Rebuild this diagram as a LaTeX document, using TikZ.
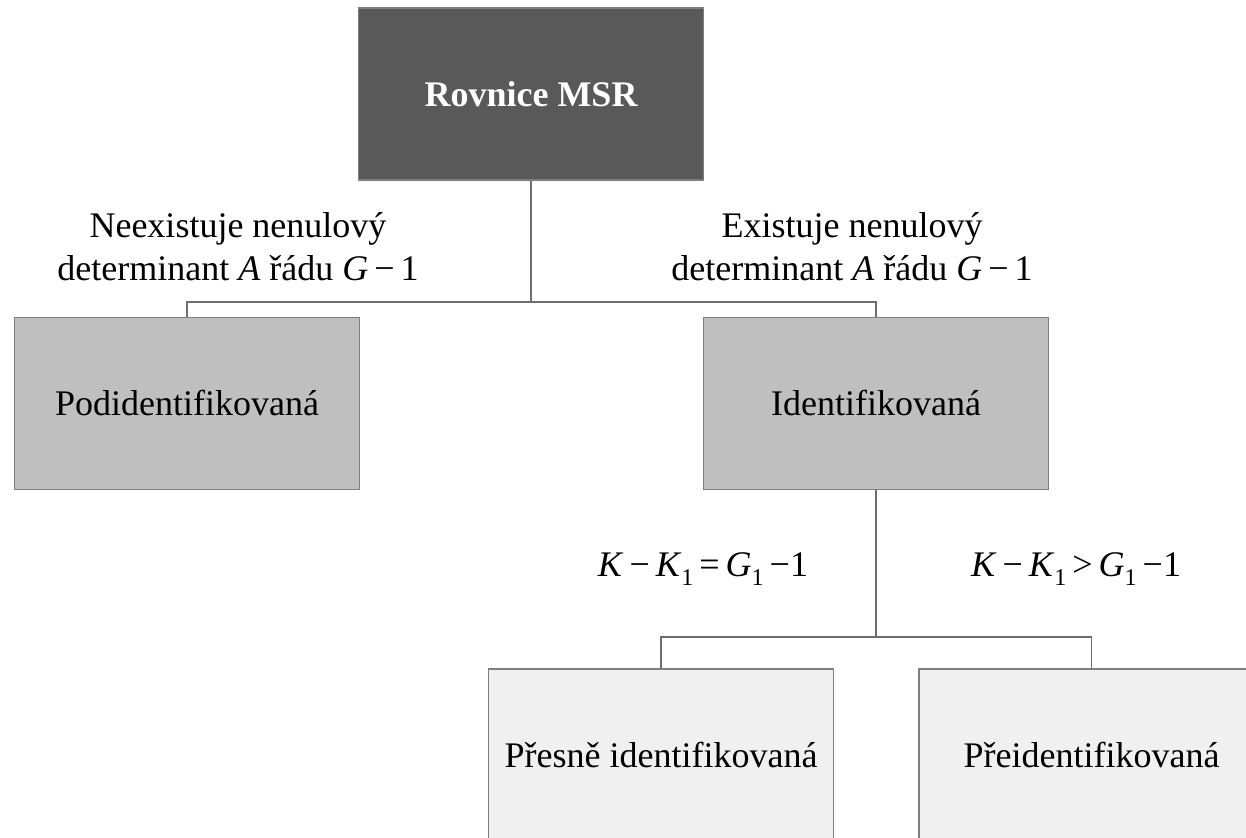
\documentclass[tikz,border=0pt]{standalone}
\usepackage{fontspec}
\setmainfont{Liberation Serif}
\definecolor{darkfill}{HTML}{595959}
\definecolor{midfill}{HTML}{BFBFBF}
\definecolor{lightfill}{HTML}{F0F0F0}
\definecolor{edge}{HTML}{7F7F7F}
\definecolor{conn}{HTML}{6E6E6E}
\newcommand{\lowsub}[1]{\raisebox{-0.55ex}{\fontsize{12}{12}\selectfont #1}}
\begin{document}
\begin{tikzpicture}[x=0.5pt,y=-0.5pt,
  box/.style={rectangle,draw=edge,line width=0.6pt,minimum width=172.5pt,minimum height=86pt,inner sep=0pt,font=\fontsize{18}{21.5}\selectfont},
  topbox/.style={box,fill=darkfill,text=white,font=\fontsize{18}{21.5}\selectfont\bfseries},
  midbox/.style={box,fill=midfill},
  lowbox/.style={box,fill=lightfill},
  lbl/.style={align=center,inner sep=0pt,font=\fontsize{18}{21.5}\selectfont},
  cnd/.style={anchor=base,inner sep=0pt,font=\fontsize{18}{21.5}\selectfont},
  link/.style={draw=conn,line width=0.6pt}]
\useasboundingbox (0,0) rectangle (1246,838);
\clip (0,0) rectangle (1246,838);
\node[topbox] (top) at (531,94) {Rovnice MSR};
\node[midbox] (pod) at (187,403.5) {Podidentifikovaná};
\node[midbox] (ide) at (876,403.5) {Identifikovaná};
\node[lowbox] (pres) at (661,755) {Přesně identifikovaná};
\node[lowbox] (pre) at (1091.5,755) {Přeidentifikovaná};
\coordinate (j1) at (531,302);
\coordinate (j2) at (876,637);
\draw[link] (top.south) -- (j1);
\draw[link] (pod.north) |- (j1) -| (ide.north);
\draw[link] (ide.south) -- (j2);
\draw[link] (pres.north) |- (j2) -| (pre.north);
\node[lbl] (l1) at (238,247) {Neexistuje nenulový\\determinant \textit{A} řádu \textit{G}\,−\,1};
\node[lbl] (l2) at (852,247) {Existuje nenulový\\determinant \textit{A} řádu \textit{G}\,−\,1};
\node[cnd] (c1) at (703,576) {\textit{K}\,−\,\textit{K}\lowsub{1}\,=\,\textit{G}\lowsub{1}\,−1};
\node[cnd] (c2) at (1076,576) {\textit{K}\,−\,\textit{K}\lowsub{1}\,>\,\textit{G}\lowsub{1}\,−1};
\end{tikzpicture}
\end{document}
